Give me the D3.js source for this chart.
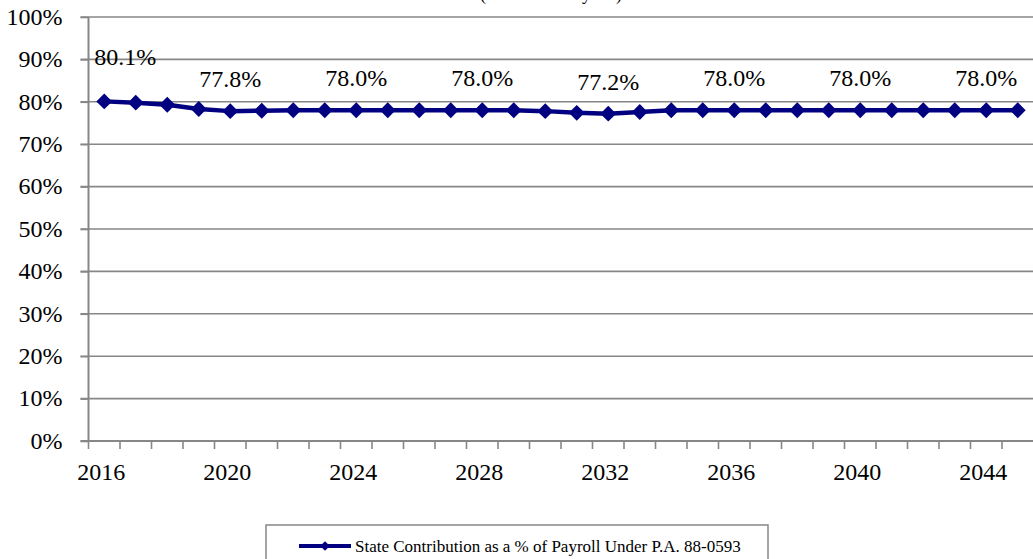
<!DOCTYPE html>
<html>
<head>
<meta charset="utf-8">
<script src="https://cdn.jsdelivr.net/npm/d3@7"></script>
<style>
  html, body { margin: 0; padding: 0; background: #fff; }
  svg { display: block; }
  svg text { font-family: "Liberation Serif", "Times New Roman", serif; fill: #000; }
</style>
</head>
<body>
<svg id="chart" width="1033" height="559"></svg>
<script>
// ---- data ----
const years = d3.range(2016, 2046);
const statePct = [80.1, 79.8, 79.3, 78.3, 77.8, 77.9, 78.0, 78.0, 78.0, 78.0,
                  78.0, 78.0, 78.0, 78.0, 77.8, 77.4, 77.2, 77.6, 78.0, 78.0,
                  78.0, 78.0, 78.0, 78.0, 78.0, 78.0, 78.0, 78.0, 78.0, 78.0];
const labelYears = [2016, 2020, 2024, 2028, 2032, 2036, 2040, 2044];
const xTickLabels = [2016, 2020, 2024, 2028, 2032, 2036, 2040, 2044];
const yTicks = [0, 10, 20, 30, 40, 50, 60, 70, 80, 90, 100];
const seriesName = "State Contribution as a % of Payroll Under P.A. 88-0593";
const titleText = "(Percent of Payroll)";

// ---- layout ----
const svg = d3.select("#chart");
const L = 88.5, R = 1033.5, T = 17, B = 441;
const navy = "#000080", grid = "#878787";
const FONT = "Liberation Serif";

const x = d3.scaleBand().domain(years).range([L, R]).padding(0);
const bw = x.bandwidth();
const cx = d => x(d) + bw / 2;
const y = d3.scaleLinear().domain([0, 100]).range([B, T]);

// partially clipped title at top (as in the reference)
svg.append("text").attr("x", 551).attr("y", 0).attr("text-anchor", "middle")
  .style("font-family", FONT).style("font-size", "18px").text(titleText);

// gridlines
svg.append("g").selectAll("line").data(yTicks.filter(v => v > 0)).join("line")
  .attr("x1", L - 8).attr("x2", R).attr("y1", d => y(d)).attr("y2", d => y(d))
  .attr("stroke", grid).attr("stroke-width", 1.6);

// y axis
const yAxis = d3.axisLeft(y).tickValues(yTicks).tickSize(8).tickPadding(18)
  .tickFormat(d => d + "%");
const gy = svg.append("g").attr("transform", `translate(${L},0)`).call(yAxis)
  .attr("font-family", FONT).attr("font-size", 24);
gy.select(".domain").attr("stroke", grid).attr("stroke-width", 2).attr("d", `M0,${T}V${B}`);
gy.selectAll(".tick line").attr("stroke", grid).attr("stroke-width", 1.6);
gy.selectAll(".tick text").style("font-family", FONT).style("font-size", "24px")
  .attr("dy", "0.30em");

// x axis line
svg.append("line").attr("x1", L - 8).attr("x2", R).attr("y1", B).attr("y2", B)
  .attr("stroke", grid).attr("stroke-width", 2);
// x tick marks at category boundaries
svg.append("g").selectAll("line").data(years).join("line")
  .attr("x1", d => x(d)).attr("x2", d => x(d)).attr("y1", B).attr("y2", B + 8)
  .attr("stroke", grid).attr("stroke-width", 1.6);
// x labels
svg.append("g").selectAll("text").data(xTickLabels).join("text")
  .attr("x", d => cx(d) - 3).attr("y", 480).attr("text-anchor", "middle")
  .style("font-family", FONT).style("font-size", "24px")
  .text(d => d);

// line
const pts = years.map((yr, i) => ({ yr, v: statePct[i] }));
svg.append("path").datum(pts)
  .attr("fill", "none").attr("stroke", navy).attr("stroke-width", 4.5)
  .attr("stroke-linejoin", "round")
  .attr("d", d3.line().x(d => cx(d.yr)).y(d => y(d.v)));

const diamond = d3.symbol().type(d3.symbolDiamond2).size(160);
svg.append("g").selectAll("path").data(pts).join("path")
  .attr("d", diamond)
  .attr("transform", d => `translate(${cx(d.yr)},${y(d.v)})`)
  .attr("fill", navy);

// data labels
svg.append("g").selectAll("text").data(labelYears).join("text")
  .attr("x", d => cx(d) + (d === years[0] ? 21 : 0))
  .attr("y", d => y(statePct[years.indexOf(d)]) - (d === years[0] ? 36 : 24))
  .attr("text-anchor", "middle")
  .style("font-family", FONT).style("font-size", "24px")
  .text(d => statePct[years.indexOf(d)].toFixed(1) + "%");

// legend
const lg = svg.append("g");
lg.append("rect").attr("x", 266).attr("y", 525).attr("width", 502).attr("height", 40)
  .attr("fill", "#fff").attr("stroke", grid).attr("stroke-width", 1.5);
lg.append("line").attr("x1", 299).attr("x2", 351).attr("y1", 546).attr("y2", 546)
  .attr("stroke", navy).attr("stroke-width", 4);
lg.append("path").attr("d", d3.symbol().type(d3.symbolDiamond2).size(60))
  .attr("transform", "translate(325,546)").attr("fill", navy);
lg.append("text").attr("x", 355).attr("y", 551.5)
  .style("font-family", FONT).style("font-size", "17px")
  .text(seriesName);
</script>
</body>
</html>
